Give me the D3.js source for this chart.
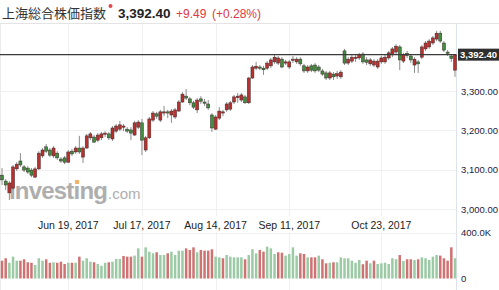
<!DOCTYPE html>
<html lang="ja">
<head>
<meta charset="UTF-8">
<title>上海総合株価指数</title>
<script src="https://cdn.jsdelivr.net/npm/d3@7"></script>
<style>
  body { margin: 0; background: #fff; }
  svg { display: block; font-family: "Liberation Sans", Arial, sans-serif; }
</style>
</head>
<body>
<svg id="chart" width="499" height="290"></svg>
<script>
// trading days, May 22 -> Nov 20 2017 (MM-DD)
const dates = [
  "05-22","05-23","05-24","05-25","05-26","05-31","06-01","06-02",
  "06-05","06-06","06-07","06-08","06-09","06-12","06-13","06-14","06-15","06-16",
  "06-19","06-20","06-21","06-22","06-23","06-26","06-27","06-28","06-29","06-30",
  "07-03","07-04","07-05","07-06","07-07","07-10","07-11","07-12","07-13","07-14",
  "07-17","07-18","07-19","07-20","07-21","07-24","07-25","07-26","07-27","07-28",
  "07-31","08-01","08-02","08-03","08-04","08-07","08-08","08-09","08-10","08-11",
  "08-14","08-15","08-16","08-17","08-18","08-21","08-22","08-23","08-24","08-25",
  "08-28","08-29","08-30","08-31","09-01","09-04","09-05","09-06","09-07","09-08",
  "09-11","09-12","09-13","09-14","09-15","09-18","09-19","09-20","09-21","09-22",
  "09-25","09-26","09-27","09-28","09-29","10-09","10-10","10-11","10-12","10-13",
  "10-16","10-17","10-18","10-19","10-20","10-23","10-24","10-25","10-26","10-27",
  "10-30","10-31","11-01","11-02","11-03","11-06","11-07","11-08","11-09","11-10",
  "11-13","11-14","11-15","11-16","11-17","11-20"
];

const open = [
  3086,3071,3041,3053,3102,3122,3107,3104,3099,3081,
  3102,3135,3158,3150,3135,3142,3127,3130,3119,3147,
  3145,3155,3132,3155,3181,3183,3175,3181,3191,3191,
  3178,3198,3203,3208,3203,3201,3188,3208,3219,3150,
  3181,3226,3242,3226,3244,3247,3239,3234,3249,3272,
  3287,3280,3270,3252,3280,3272,3267,3239,3203,3231,
  3244,3252,3254,3272,3283,3277,3285,3270,3333,3358,
  3361,3358,3358,3364,3374,3371,3381,3372,3361,3378,
  3374,3381,3364,3351,3364,3366,3361,3351,3346,3333,
  3343,3338,3336,3402,3371,3376,3384,3384,3394,3379,
  3369,3366,3361,3374,3374,3384,3392,3399,3412,3376,
  3396,3389,3366,3374,3386,3407,3412,3422,3432,3447,
  3422,3399,3389,3353
];
const high = [
  3104,3076,3071,3112,3119,3142,3112,3109,3104,3107,
  3147,3155,3165,3155,3160,3147,3132,3135,3150,3153,
  3160,3186,3160,3191,3196,3188,3193,3196,3198,3196,
  3211,3216,3224,3216,3208,3208,3224,3226,3229,3186,
  3234,3249,3247,3252,3262,3252,3254,3257,3277,3297,
  3305,3285,3275,3282,3287,3280,3277,3244,3239,3259,
  3252,3272,3275,3290,3295,3295,3290,3336,3366,3374,
  3366,3364,3376,3384,3392,3389,3386,3379,3379,3389,
  3386,3386,3369,3366,3369,3371,3366,3356,3351,3351,
  3348,3351,3353,3407,3386,3392,3392,3397,3399,3386,
  3384,3381,3381,3389,3392,3402,3412,3419,3417,3397,
  3402,3394,3386,3379,3417,3427,3432,3440,3453,3453,
  3427,3404,3394,3394
];
const low = [
  3061,3048,3023,3048,3097,3107,3094,3089,3081,3079,
  3099,3130,3142,3132,3130,3125,3117,3114,3117,3135,
  3140,3140,3117,3153,3175,3168,3170,3175,3183,3175,
  3173,3193,3198,3198,3193,3175,3186,3203,3137,3145,
  3178,3221,3229,3221,3236,3231,3219,3229,3247,3270,
  3277,3264,3254,3244,3267,3262,3252,3196,3201,3226,
  3236,3247,3249,3267,3270,3272,3267,3267,3331,3353,
  3353,3341,3353,3358,3369,3366,3358,3366,3356,3371,
  3369,3364,3346,3346,3348,3346,3348,3338,3328,3328,
  3328,3331,3331,3366,3366,3371,3374,3379,3369,3366,
  3364,3361,3356,3369,3369,3379,3386,3394,3353,3371,
  3384,3371,3346,3346,3381,3402,3407,3417,3427,3422,
  3399,3389,3374,3336
];
const close = [
  3074,3061,3066,3107,3114,3112,3099,3094,3086,3102,
  3142,3150,3147,3137,3155,3130,3122,3119,3145,3140,
  3155,3145,3155,3186,3191,3170,3188,3191,3193,3181,
  3206,3211,3214,3211,3198,3193,3219,3221,3175,3181,
  3229,3244,3236,3247,3247,3244,3249,3252,3272,3292,
  3282,3270,3259,3277,3274,3270,3257,3206,3234,3249,
  3247,3267,3270,3285,3287,3290,3270,3333,3361,3363,
  3359,3354,3371,3379,3386,3384,3361,3374,3374,3381,
  3381,3369,3351,3361,3353,3351,3353,3343,3333,3346,
  3336,3344,3348,3371,3381,3386,3386,3392,3374,3373,
  3379,3376,3376,3384,3386,3397,3407,3414,3379,3392,
  3390,3379,3381,3369,3412,3422,3427,3435,3447,3427,
  3404,3396,3383,3392.40
];
// volume in thousands
const volume = [
  155,176,137,190,155,155,167,141,137,117,
  176,155,167,137,141,137,146,126,137,137,
  137,190,155,176,146,141,126,111,137,141,
  146,170,170,196,190,190,199,262,190,271,
  233,219,228,204,204,219,233,204,242,242,
  262,248,271,228,248,242,242,254,190,184,
  176,204,190,184,184,184,167,204,254,219,
  248,233,277,262,213,228,224,199,213,271,
  199,219,213,184,184,184,199,167,132,137,
  141,141,184,176,176,155,137,161,124,155,
  132,155,126,132,137,126,176,167,204,152,
  167,167,161,167,184,176,161,190,204,199,
  176,155,271,176
];

const tickDates = ["06-19", "07-17", "08-14", "09-11", "10-23"];
const tickLabels = ["Jun 19, 2017", "Jul 17, 2017", "Aug 14, 2017", "Sep 11, 2017", "Oct 23, 2017"];
const priceTicks = [3000, 3100, 3200, 3300];
const volumeTicks = [0, 400];

const title = "上海総合株価指数";
const lastPrice = 3392.40;
const change = 9.49;
const changePct = 0.28;

const upColor = "#b8312f";
const downColor = "#3f8f3f";

const svg = d3.select("#chart");
const W = 499, plotRight = 456;

const x = d3.scalePoint().domain(dates).range([2, 455]);
const y = d3.scaleLinear().domain([3000, 3300]).range([209, 91]);
const yv = d3.scaleLinear().domain([0, 400]).range([278.5, 232.5]);

const fmtPrice = d3.format(",.2f");

// header
svg.append("text").attr("x", 2).attr("y", 18).attr("font-size", 13)
  .attr("font-family", "'Noto Sans CJK JP', sans-serif")
  .attr("fill", "#333").text(title);
svg.append("circle").attr("cx", 110.5).attr("cy", 6).attr("r", 2).attr("fill", "#e0474c");
svg.append("text").attr("x", 118).attr("y", 18).attr("font-size", 13.5)
  .attr("font-weight", "bold").attr("fill", "#222").text(fmtPrice(lastPrice));
svg.append("text").attr("x", 176).attr("y", 18).attr("font-size", 12)
  .attr("fill", "#e0383e").text("+" + d3.format(".2f")(change));
svg.append("text").attr("x", 212).attr("y", 18).attr("font-size", 12)
  .attr("fill", "#e0383e").text("(+" + d3.format(".2f")(changePct) + "%)");

// frame and grid
svg.append("line").attr("x1", 0).attr("x2", W).attr("y1", 23.5).attr("y2", 23.5)
  .attr("stroke", "#e4e4e4");
svg.append("line").attr("x1", 0.5).attr("x2", 0.5).attr("y1", 23.5).attr("y2", 290)
  .attr("stroke", "#ececec");

svg.append("g").selectAll("line").data(priceTicks).join("line")
  .attr("x1", 0).attr("x2", plotRight)
  .attr("y1", d => Math.round(y(d)) + 0.5).attr("y2", d => Math.round(y(d)) + 0.5)
  .attr("stroke", "#f0f0f0");

svg.append("line").attr("x1", 0).attr("x2", plotRight)
  .attr("y1", Math.round(yv(400)) + 0.5).attr("y2", Math.round(yv(400)) + 0.5)
  .attr("stroke", "#f0f0f0");

svg.append("g").selectAll("line").data(tickDates).join("line")
  .attr("x1", d => Math.round(x(d)) + 0.5).attr("x2", d => Math.round(x(d)) + 0.5)
  .attr("y1", 24).attr("y2", 216)
  .attr("stroke", "#f0f0f0");
svg.append("g").selectAll("line").data(tickDates).join("line")
  .attr("x1", d => Math.round(x(d)) + 0.5).attr("x2", d => Math.round(x(d)) + 0.5)
  .attr("y1", 232).attr("y2", 290)
  .attr("stroke", "#f0f0f0");

svg.append("line").attr("x1", plotRight + 0.5).attr("x2", plotRight + 0.5)
  .attr("y1", 24).attr("y2", 290).attr("stroke", "#dde3ea");

// watermark
const wm = svg.append("g").attr("fill", "#9a9a9a").attr("opacity", 0.8);
wm.append("text").attr("x", 9).attr("y", 199).attr("font-size", 24)
  .attr("font-weight", "bold").attr("letter-spacing", -0.8).text("Investing");
wm.append("text").attr("x", 108).attr("y", 199).attr("font-size", 15).text(".com");
svg.append("rect").attr("x", 75).attr("y", 180).attr("width", 4).attr("height", 4)
  .attr("fill", "#f4b26a");

// candles
const data = dates.map((d, i) => ({
  date: d, open: open[i], high: high[i], low: low[i], close: close[i], volume: volume[i],
  prev: i > 0 ? close[i - 1] : open[i]
}));

svg.append("g").selectAll("line").data(data).join("line")
  .attr("x1", d => x(d.date)).attr("x2", d => x(d.date))
  .attr("y1", d => y(d.high)).attr("y2", d => y(d.low))
  .attr("stroke", "#8c8c8c").attr("stroke-width", 1);

svg.append("g").selectAll("rect").data(data).join("rect")
  .attr("x", d => x(d.date) - 1.5)
  .attr("width", 3)
  .attr("y", d => y(Math.max(d.open, d.close)))
  .attr("height", d => Math.max(1.2, Math.abs(y(d.open) - y(d.close))))
  .attr("fill", d => d.close >= d.open ? upColor : downColor)
  .attr("stroke", "#3a2a2a").attr("stroke-width", 0.5);

// volume, coloured against the previous close
svg.append("g").selectAll("rect").data(data).join("rect")
  .attr("x", d => x(d.date) - 1.25)
  .attr("width", 2.5)
  .attr("y", d => yv(d.volume))
  .attr("height", d => yv(0) - yv(d.volume))
  .attr("fill", d => d.close >= d.prev ? "#9bcaa5" : "#cf7272");

// last price line + tag
const yl = y(lastPrice);
svg.append("line").attr("x1", 0).attr("x2", plotRight).attr("y1", yl).attr("y2", yl)
  .attr("stroke", "#3a3a3a").attr("stroke-width", 1.4);
svg.append("rect").attr("x", plotRight + 2).attr("y", yl - 6).attr("width", W - plotRight - 2)
  .attr("height", 12).attr("fill", "#2f2f2f");
svg.append("text").attr("x", plotRight + 4).attr("y", yl + 3.5).attr("font-size", 9.5)
  .attr("font-weight", "bold").attr("fill", "#fff").text(fmtPrice(lastPrice));

// right axes
svg.append("g").selectAll("text").data(priceTicks).join("text")
  .attr("x", 461).attr("y", d => y(d) + 3.5)
  .attr("font-size", 9.5).attr("fill", "#1d2240")
  .text(d => fmtPrice(d));

svg.append("g").selectAll("text").data(volumeTicks).join("text")
  .attr("x", 461).attr("y", d => yv(d) + 3.5)
  .attr("font-size", 9.5).attr("fill", "#1d2240")
  .text(d => d === 0 ? "0" : d3.format(".1f")(d) + "K");

// date labels
svg.append("g").selectAll("text").data(tickDates).join("text")
  .attr("x", d => x(d)).attr("y", 229)
  .attr("text-anchor", "middle").attr("font-size", 10.5).attr("fill", "#222")
  .text((d, i) => tickLabels[i]);
</script>
</body>
</html>
